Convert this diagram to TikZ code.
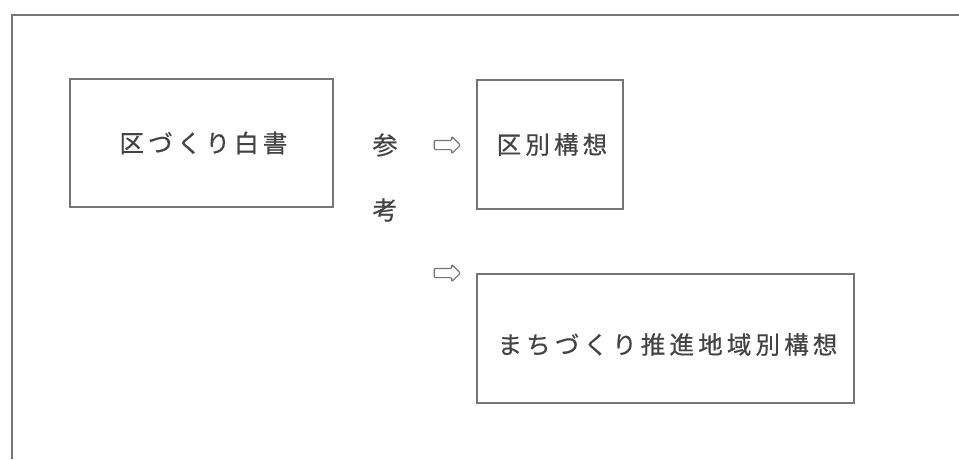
\documentclass[tikz,border=0pt]{standalone}
\usepackage{fontspec}
\usetikzlibrary{shapes.arrows}
\newfontfamily\jpfont[LetterSpace=17,FakeBold=0.6]{Noto Sans CJK JP}
\newfontfamily\jpsingle[FakeBold=0.6]{Noto Sans CJK JP}
\definecolor{linegray}{HTML}{757575}
\definecolor{textgray}{HTML}{444444}
\tikzset{
  box/.style={draw=linegray, line width=1.3pt, rectangle, inner sep=0pt},
  jtext/.style={text=textgray, font=\jpfont\fontsize{24.5}{28}\selectfont},
  vtext/.style={text=textgray, font=\jpsingle\fontsize{25}{28}\selectfont},
  arr/.style={single arrow, draw=linegray, line width=1.1pt, inner sep=4pt,
    minimum height=26pt, single arrow head extend=4pt, rounded corners=1pt}
}
\begin{document}
\begin{tikzpicture}[x=1pt,y=-1pt]
\useasboundingbox (0,0) rectangle (959,459);
\fill[white] (0,0) rectangle (959,459);
\draw[linegray, line width=1.3pt] (959,15) -- (12,15) -- (12,459);
\node[box, minimum width=263pt, minimum height=128pt] (b1) at (201.5,143) {};
\node[jtext] (t1) at ([xshift=2pt]b1.center) {区づくり白書};
\node[box, minimum width=146pt, minimum height=129pt] (b2) at (550,144.5) {};
\node[jtext] (t2) at ([xshift=2pt]b2.center) {区別構想};
\node[box, minimum width=377pt, minimum height=129pt] (b3) at (665.5,338.5) {};
\node[jtext] (t3) at ([xshift=2pt,yshift=-6pt]b3.center) {まちづくり推進地域別構想};
\node[vtext] (s1) at (385,145) {参};
\node[vtext] (s2) at (385,210) {考};
\node[arr] (a1) at (445,145) {};
\node[arr] (a2) at (445,273) {};
\end{tikzpicture}
\end{document}
